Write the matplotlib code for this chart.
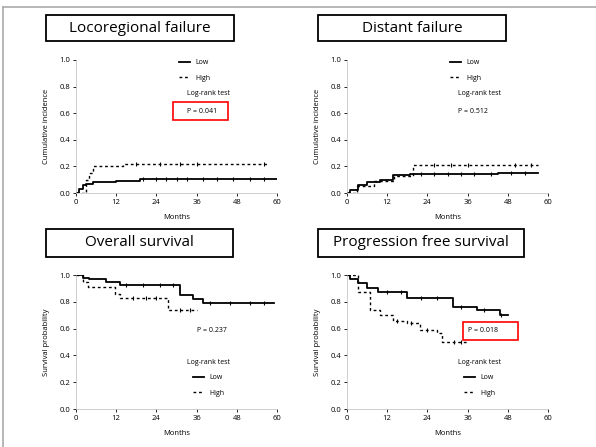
import numpy as np
import matplotlib.pyplot as plt
from matplotlib.patches import Rectangle
from matplotlib.lines import Line2D

plt.rcParams['font.family'] = ['Open Sans', 'DejaVu Sans']

W, H = 596, 447

# panel titles
titles = ["Locoregional failure", "Distant failure", "Overall survival", "Progression free survival"]
group_labels = ["Low", "High"]
p_texts = ["P = 0.041", "P = 0.512", "P = 0.237", "P = 0.018"]
x_ticks = [0, 12, 24, 36, 48, 60]
y_ticks = [0.0, 0.2, 0.4, 0.6, 0.8, 1.0]

# locoregional failure (cumulative incidence)
lrf_a_t = [0, 1, 2, 3, 5, 12, 19, 60]
lrf_a_v = [0, 0.03, 0.06, 0.07, 0.08, 0.09, 0.105, 0.105]
lrf_b_t = [0, 3, 4, 5, 14, 57]
lrf_b_v = [0, 0.10, 0.15, 0.20, 0.22, 0.22]

# distant failure
df_a_t = [0, 1, 3.3, 6, 9.9, 13.7, 18.8, 30, 45, 57]
df_a_v = [0, 0.02, 0.06, 0.08, 0.10, 0.135, 0.14, 0.145, 0.15, 0.15]
df_b_t = [0, 3, 8, 14, 19.7, 57]
df_b_v = [0, 0.05, 0.09, 0.13, 0.21, 0.21]

# overall survival
os_a_t = [0, 2, 4, 9, 13, 31, 35, 38, 59]
os_a_v = [1, 0.98, 0.97, 0.95, 0.925, 0.85, 0.82, 0.79, 0.79]
os_b_t = [0, 2, 3.6, 11.6, 13, 27.5, 36]
os_b_v = [1, 0.95, 0.91, 0.86, 0.83, 0.74, 0.74]

# progression free survival
pfs_a_t = [0, 1, 3.3, 6, 9.3, 17.9, 31.6, 38.8, 45.7, 48]
pfs_a_v = [1, 0.97, 0.94, 0.90, 0.87, 0.83, 0.76, 0.74, 0.70, 0.70]
pfs_b_t = [0, 3.3, 6.9, 9.9, 13.7, 17.9, 21.8, 26.9, 28.4, 36]
pfs_b_v = [1, 0.87, 0.74, 0.70, 0.66, 0.64, 0.59, 0.57, 0.50, 0.50]

# censored times
cens_a = [[20, 24, 27, 30, 33, 38, 42, 47, 52, 56], [22, 26, 30, 34, 38, 43, 49, 53],
          [15, 20, 25, 29, 40, 46, 52, 56], [12, 16, 22, 27, 34, 41, 46]]
cens_b = [[18, 25, 31, 36, 56], [26, 31, 36, 50, 55],
          [17, 21, 24, 31, 34], [15, 19, 24, 32, 34]]

curves = [
    (lrf_a_t, lrf_a_v, lrf_b_t, lrf_b_v),
    (df_a_t, df_a_v, df_b_t, df_b_v),
    (os_a_t, os_a_v, os_b_t, os_b_v),
    (pfs_a_t, pfs_a_v, pfs_b_t, pfs_b_v),
]
ylabels = ["Cumulative incidence", "Cumulative incidence", "Survival probability", "Survival probability"]

# layout in pixels (left, top, right, bottom)
axes_px = [(76, 60, 277, 193), (347, 60, 548, 193), (76, 275, 277, 409), (347, 275, 548, 409)]
title_px = [(46, 15, 234, 41), (318, 15, 506, 41), (46, 229, 233, 257), (318, 229, 524, 257)]
red_px = [(173, 102, 228, 120), None, None, (463, 322, 518, 340)]


def step_at(ts, vs, t):
    i = np.searchsorted(ts, t, side='right') - 1
    return np.asarray(vs)[i]


fig = plt.figure(figsize=(W / 100, H / 100), dpi=100)

for k in range(4):
    l, t, r, b = axes_px[k]
    ax = fig.add_axes([l / W, 1 - b / H, (r - l) / W, (b - t) / H])
    ta, va, tb, vb = curves[k]
    ax.step(ta, va, where='post', color='black', lw=1.3, label=group_labels[0])
    ax.step(tb, vb, where='post', color='black', lw=1.0, ls=(0, (2, 2)), label=group_labels[1])
    ca = [c for c in cens_a[k] if c <= ta[-1]]
    cb = [c for c in cens_b[k] if c <= tb[-1]]
    ax.plot(ca, step_at(ta, va, ca), '|', color='black', ms=3, mew=0.8)
    ax.plot(cb, step_at(tb, vb, cb), '|', color='black', ms=3, mew=0.8)

    ax.set_xlim(0, 60)
    ax.set_ylim(0, 1)
    ax.set_xticks(x_ticks)
    ax.set_yticks(y_ticks)
    ax.set_yticklabels([f"{v:.1f}" for v in y_ticks])
    ax.tick_params(labelsize=5.5, length=2.5, width=0.6, pad=1.5)
    for s in ['top', 'right']:
        ax.spines[s].set_visible(False)
    for s in ['left', 'bottom']:
        ax.spines[s].set_color('#bbbbbb')
        ax.spines[s].set_linewidth(0.5)
    ax.set_xlabel("Months", fontsize=5.5, labelpad=6)
    ax.set_ylabel(ylabels[k], fontsize=5.5, labelpad=7)

    if k < 2:
        ax.legend(loc='upper left', bbox_to_anchor=(0.48, 1.052), fontsize=5, frameon=False,
                  handlelength=1.6, handletextpad=0.8, labelspacing=1.2)
        ax.text(0.55, 0.75, "Log-rank test", transform=ax.transAxes, fontsize=5, va='center')
        ax.text(0.55, 0.615, p_texts[k], transform=ax.transAxes, fontsize=5, va='center')
    else:
        ax.legend(loc='upper left', bbox_to_anchor=(0.55, 0.305), fontsize=5, frameon=False,
                  handlelength=1.6, handletextpad=0.8, labelspacing=1.2)
        ax.text(0.55, 0.345, "Log-rank test", transform=ax.transAxes, fontsize=5, va='center')
        ax.text(0.6, 0.585, p_texts[k], transform=ax.transAxes, fontsize=5, va='center')

    # boxed title
    l2, t2, r2, b2 = title_px[k]
    fig.patches.append(Rectangle((l2 / W, 1 - b2 / H), (r2 - l2) / W, (b2 - t2) / H,
                                 transform=fig.transFigure, fill=False, ec='black', lw=1.3))
    fig.text((l2 + r2) / 2 / W, 1 - (t2 + b2) / 2 / H, titles[k], ha='center', va='center', fontsize=11)

    if red_px[k] is not None:
        l3, t3, r3, b3 = red_px[k]
        fig.patches.append(Rectangle((l3 / W, 1 - b3 / H), (r3 - l3) / W, (b3 - t3) / H,
                                     transform=fig.transFigure, fill=False, ec='red', lw=1.2))

# thin grey frame lines at top and left
fig.add_artist(Line2D([3 / W, 1], [1 - 7 / H, 1 - 7 / H], color='#aaaaaa', lw=1.2))
fig.add_artist(Line2D([3 / W, 3 / W], [0, 1 - 7 / H], color='#aaaaaa', lw=1.2))

fig.savefig("out.png", dpi=100)
